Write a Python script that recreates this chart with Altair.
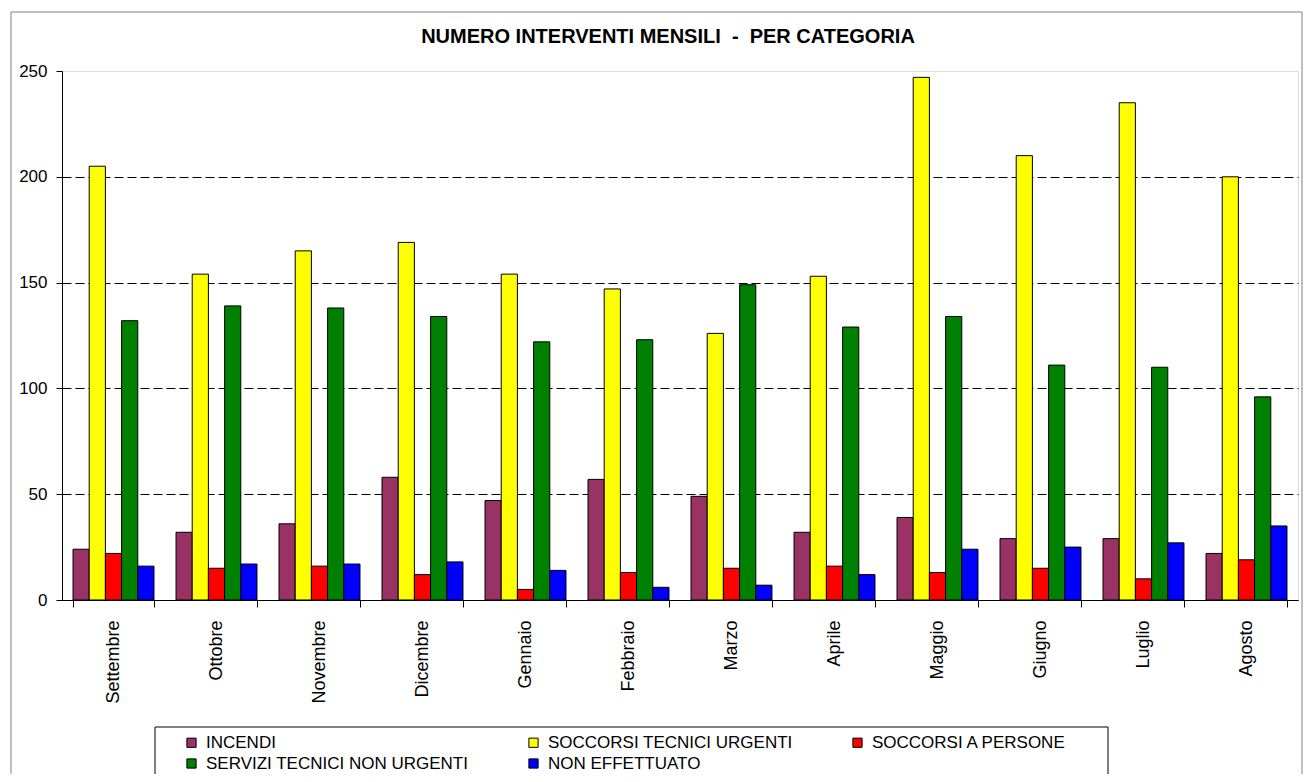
import altair as alt
import pandas as pd

months = ["Settembre", "Ottobre", "Novembre", "Dicembre", "Gennaio", "Febbraio",
          "Marzo", "Aprile", "Maggio", "Giugno", "Luglio", "Agosto"]
series = ["INCENDI", "SOCCORSI TECNICI URGENTI", "SOCCORSI A PERSONE",
          "SERVIZI TECNICI NON URGENTI", "NON EFFETTUATO"]
colors = ["#993366", "#FFFF00", "#FF0000", "#008000", "#0000FF"]

incendi = [24, 32, 36, 58, 47, 57, 49, 32, 39, 29, 29, 22]
soccorsi_tecnici_urgenti = [205, 154, 165, 169, 154, 147, 126, 153, 247, 210, 235, 200]
soccorsi_a_persone = [22, 15, 16, 12, 5, 13, 15, 16, 13, 15, 10, 19]
servizi_tecnici_non_urgenti = [132, 139, 138, 134, 122, 123, 149, 129, 134, 111, 110, 96]
non_effettuato = [16, 17, 17, 18, 14, 6, 7, 12, 24, 25, 27, 35]

y_ticks = [0, 50, 100, 150, 200, 250]

values = [incendi, soccorsi_tecnici_urgenti, soccorsi_a_persone,
          servizi_tecnici_non_urgenti, non_effettuato]
rows = []
for s, vals in zip(series, values):
    for m, v in zip(months, vals):
        rows.append({"mese": m, "categoria": s, "valore": v})
df = pd.DataFrame(rows)

# legend fills column by column (2 rows), so order entries to read row-wise like the original
legend_order = [series[0], series[3], series[1], series[4], series[2]]
legend_colors = [colors[series.index(s)] for s in legend_order]

FONT = "Liberation Sans, Arial"

bars = alt.Chart(df).mark_bar(stroke="black", strokeWidth=1).encode(
    x=alt.X("mese:N", sort=months,
            scale=alt.Scale(paddingInner=0.214, paddingOuter=0.107),
            axis=alt.Axis(title=None, labelAngle=-90, labelFont=FONT,
                          labelFontSize=18, labelColor="black", labelPadding=13,
                          tickBand="extent", tickSize=7, tickColor="black",
                          domainColor="black", grid=False)),
    xOffset=alt.XOffset("categoria:N", sort=series, scale=alt.Scale(paddingInner=0, paddingOuter=0)),
    y=alt.Y("valore:Q", scale=alt.Scale(domain=[0, 250], nice=False),
            axis=alt.Axis(title=None, values=y_ticks, labelFont=FONT, labelFontSize=17,
                          labelColor="black", labelPadding=9, tickSize=6,
                          tickColor="black", domainColor="black",
                          grid=True, gridDash=[9, 4],
                          gridColor={"condition": {"test": "datum.value === 250", "value": "transparent"},
                                     "value": "black"})),
    color=alt.Color("categoria:N", sort=legend_order,
                    scale=alt.Scale(domain=legend_order, range=legend_colors),
                    legend=alt.Legend(title=None, orient="none", legendX=121, legendY=663,
                                      columns=3, columnPadding=56, rowPadding=3,
                                      symbolType="square", symbolSize=85,
                                      symbolStrokeColor="black", symbolStrokeWidth=1,
                                      symbolOpacity=1,
                                      labelFont=FONT, labelFontSize=17, labelColor="black",
                                      labelOffset=6, labelLimit=400, padding=0)),
)

frame = alt.Chart(alt.Data(values=[{"k": 1}])).mark_rect(
    fillOpacity=0, stroke="#808080", strokeWidth=1
).encode(
    x=alt.value(-51), x2=alt.value(1240), y=alt.value(-59), y2=alt.value(720)
)

legend_box = alt.Chart(alt.Data(values=[{"k": 1}])).mark_rect(
    fillOpacity=0, stroke="black", strokeWidth=1
).encode(
    x=alt.value(93), x2=alt.value(1046), y=alt.value(656), y2=alt.value(720)
)

chart = alt.layer(frame, legend_box, bars).properties(
    width=1236, height=529,
    autosize=alt.AutoSizeParams(type="none"),
    padding={"left": 54, "top": 63, "right": 5, "bottom": 174},
    title=alt.Title("NUMERO INTERVENTI MENSILI \u00a0-\u00a0 PER CATEGORIA", font=FONT,
                    fontSize=20, fontWeight="bold", color="black", dx=-12, offset=-35),
).configure_view(stroke="#808080", strokeWidth=1).configure(background="white")

chart.save("out.html", embed_options={"renderer": "svg", "actions": False})
